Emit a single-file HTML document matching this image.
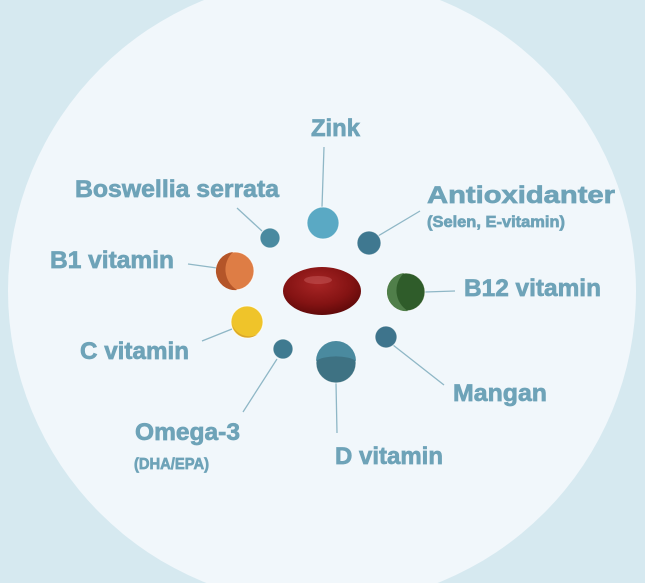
<!DOCTYPE html>
<html><head><meta charset="utf-8"><style>
html,body{margin:0;padding:0;background:#d6e9f0;}
svg{display:block}
.t{font-family:"Liberation Sans",sans-serif;font-weight:bold;fill:#6ea3b8;stroke:#6ea3b8;stroke-width:0.7px;}
</style></head><body>
<svg width="645" height="583" viewBox="0 0 645 583" xmlns="http://www.w3.org/2000/svg">
<defs>
<radialGradient id="pill" cx="0.45" cy="0.35" r="0.7">
<stop offset="0" stop-color="#a82525"/><stop offset="0.6" stop-color="#841313"/><stop offset="1" stop-color="#5a0808"/>
</radialGradient>
</defs>
<rect width="645" height="583" fill="#d6e9f0"/>
<circle cx="322" cy="291" r="314" fill="#f1f7fb"/>
<g stroke="#8fb7c6" stroke-width="1.3">
<line x1="324" y1="147" x2="322" y2="207"/>
<line x1="237" y1="208" x2="262" y2="231"/>
<line x1="420" y1="211" x2="378" y2="236"/>
<line x1="188" y1="264" x2="217" y2="268"/>
<line x1="425" y1="292" x2="455" y2="291"/>
<line x1="202" y1="341" x2="232" y2="329"/>
<line x1="277" y1="359" x2="243" y2="412"/>
<line x1="336" y1="383" x2="337" y2="433"/>
<line x1="393" y1="345" x2="444" y2="385"/>
</g>
<g stroke="#ffffff" stroke-width="1" stroke-opacity="0.7">
<circle cx="323" cy="223" r="16" fill="#5aa9c4"/>
<circle cx="270" cy="238" r="10" fill="#4a8aa0"/>
<circle cx="369" cy="243" r="12" fill="#3f7890"/>
<circle cx="235" cy="271" r="19" fill="#de7d45"/>
<circle cx="406" cy="292" r="19" fill="#2f5c2a"/>
<circle cx="247" cy="322" r="16" fill="#efc42a"/>
<circle cx="283" cy="349" r="10" fill="#3f7a90"/>
<circle cx="336" cy="363" r="20" fill="#3e7283"/>
<circle cx="386" cy="337" r="11" fill="#3e748c"/>
</g>
<path d="M309 231 A16 16 0 0 1 337 214 A14 14 0 0 0 309 231Z" fill="#4c93ab"/>
<path d="M233 252 A19 19 0 0 0 237 290 A24 24 0 0 1 233 252Z" fill="#b45529"/>
<ellipse cx="322" cy="291" rx="39" ry="24" fill="url(#pill)"/>
<ellipse cx="318" cy="280" rx="14" ry="4" fill="#c05050" opacity="0.6"/>
<path d="M404 273 A19 19 0 0 0 408 311 A24 24 0 0 1 404 273Z" fill="#507f4a"/>
<path d="M232 324 A16 16 0 0 0 258 334 A18 18 0 0 1 232 324Z" fill="#d9a52a"/>
<path d="M316 361 A20 20 0 0 1 356 361 A22 8 0 0 0 316 361Z" fill="#4a8a9f"/>
<text class="t" x="311" y="136" font-size="24" textLength="49" lengthAdjust="spacingAndGlyphs">Zink</text>
<text class="t" x="75" y="197" font-size="24" textLength="204" lengthAdjust="spacingAndGlyphs">Boswellia serrata</text>
<text class="t" x="427" y="203" font-size="24" textLength="188" lengthAdjust="spacingAndGlyphs">Antioxidanter</text>
<text class="t" x="427" y="227" font-size="16" textLength="138" lengthAdjust="spacingAndGlyphs">(Selen, E-vitamin)</text>
<text class="t" x="50" y="268" font-size="24" textLength="124" lengthAdjust="spacingAndGlyphs">B1 vitamin</text>
<text class="t" x="464" y="296" font-size="24" textLength="137" lengthAdjust="spacingAndGlyphs">B12 vitamin</text>
<text class="t" x="80" y="359" font-size="24" textLength="109" lengthAdjust="spacingAndGlyphs">C vitamin</text>
<text class="t" x="453" y="401" font-size="24" textLength="94" lengthAdjust="spacingAndGlyphs">Mangan</text>
<text class="t" x="135" y="440" font-size="24" textLength="105" lengthAdjust="spacingAndGlyphs">Omega-3</text>
<text class="t" x="134" y="469" font-size="16" textLength="75" lengthAdjust="spacingAndGlyphs">(DHA/EPA)</text>
<text class="t" x="335" y="464" font-size="24" textLength="108" lengthAdjust="spacingAndGlyphs">D vitamin</text>
</svg>
</body></html>
